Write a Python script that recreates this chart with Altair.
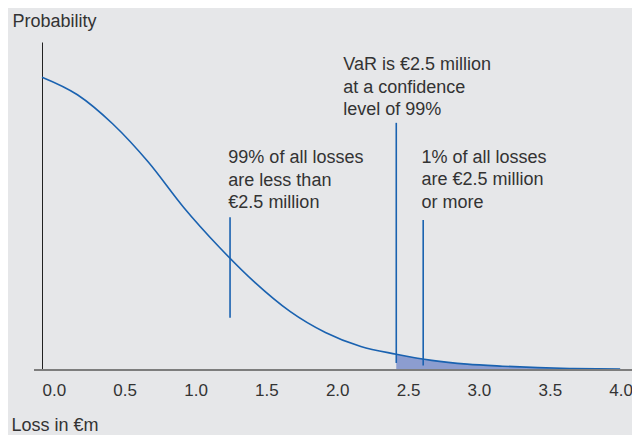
import altair as alt
import pandas as pd

# Loss distribution curve, relative probability
loss_x = [0.0, 0.25, 0.5, 0.75, 1.0, 1.25, 1.5, 1.75, 2.0, 2.25, 2.5, 2.75, 3.0, 3.25, 3.5, 3.75, 4.08]
prob_y = [1.0, 0.94, 0.84, 0.71, 0.555, 0.42, 0.30, 0.20, 0.128, 0.080, 0.054, 0.033, 0.020, 0.013, 0.008, 0.005, 0.003]

var_level = 2.5
tick_values = [0.0, 0.5, 1.0, 1.5, 2.0, 2.5, 3.0, 3.5, 4.0]

# annotation pointer lines: x, y top, y bottom
line_x = [1.327, 2.5, 2.69]
line_top = [0.522, 0.844, 0.512]
line_bottom = [0.178, 0.024, 0.015]

# annotation texts
note_text = [
    "99% of all losses\nare less than\n€2.5 million",
    "VaR is €2.5 million\nat a confidence\nlevel of 99%",
    "1% of all losses\nare €2.5 million\nor more",
]
note_x = [1.315, 2.126, 2.678]
note_y = [0.723, 1.041, 0.724]

FONT = "Liberation Sans"
TXT = "#333333"
BLUE = "#1a62b0"
FS = 18

curve = pd.DataFrame({"x": loss_x, "y": prob_y})
lines = pd.DataFrame({"x": line_x, "y": line_top, "y2": line_bottom})
notes = pd.DataFrame({"x": note_x, "y": note_y, "t": note_text})

xs = alt.Scale(domain=[0, 4.1], nice=False, zero=False)
ys = alt.Scale(domain=[0, 1.12], nice=False)

x_axis = alt.Axis(
    values=tick_values, format=".1f", labelAlign="left", labelBaseline="middle",
    labelPadding=20, ticks=False, tickSize=0, domain=False, grid=False,
    labelFontSize=17, labelColor=TXT, labelFont=FONT, labelFlush=False, labelOverlap=False,
    title="Loss in €m", titleX=-31, titleY=55, titleAlign="left", titleBaseline="middle",
    titleFontWeight="normal", titleFontSize=FS, titleColor=TXT, titleFont=FONT,
)
y_axis = alt.Axis(
    labels=False, ticks=False, grid=False, domain=True, domainColor="#222222", domainWidth=1,
    title="Probability", titleAngle=0, titleAlign="left", titleBaseline="middle",
    titleX=-30, titleY=-20.5, titleFontWeight="normal", titleFontSize=FS, titleColor=TXT, titleFont=FONT,
)

area = alt.Chart(curve).transform_filter(alt.datum.x >= var_level).mark_area(
    color="#8c9dd0", interpolate="monotone", opacity=1
).encode(x=alt.X("x:Q", scale=xs), y=alt.Y("y:Q", scale=ys))

line = alt.Chart(curve).mark_line(color=BLUE, strokeWidth=1.6, interpolate="monotone").encode(
    x=alt.X("x:Q", scale=xs, axis=x_axis), y=alt.Y("y:Q", scale=ys, axis=y_axis)
)

base_rule = alt.Chart(curve).mark_rule(color="#7d7d7d", strokeWidth=2).encode(
    x=alt.value(-8), x2=alt.value(640), y=alt.value(328)
)

pointers = alt.Chart(lines).mark_rule(color=BLUE, strokeWidth=1.6).encode(
    x=alt.X("x:Q", scale=xs), y=alt.Y("y:Q", scale=ys), y2="y2:Q"
)

texts = alt.Chart(notes).mark_text(
    align="left", baseline="middle", lineBreak="\n", lineHeight=22.5,
    font=FONT, fontSize=FS, color=TXT
).encode(x=alt.X("x:Q", scale=xs), y=alt.Y("y:Q", scale=ys), text="t:N")

chart = alt.layer(area, line, base_rule, pointers, texts).properties(
    width=581, height=328,
    autosize=alt.AutoSizeParams(type="none"),
    padding={"left": 34, "top": 34, "right": 9, "bottom": 65},
    background="#e6e7e9",
).configure_view(stroke=None)

chart.save("out.html", embed_options={"renderer": "svg", "actions": False})
